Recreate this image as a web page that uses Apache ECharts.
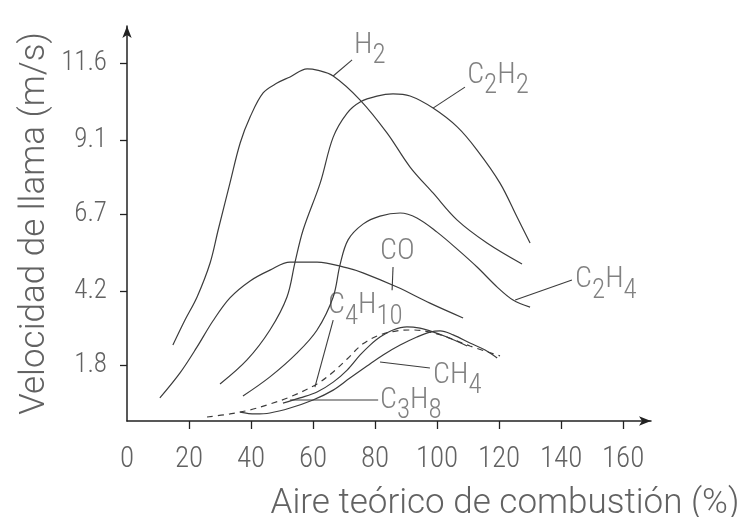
<!DOCTYPE html>
<html>
<head>
<meta charset="utf-8">
<script src="https://cdn.jsdelivr.net/npm/echarts@6/dist/echarts.min.js"></script>
<style>html,body{margin:0;padding:0;background:#fff}#c{width:750px;height:517px}</style>
</head>
<body>
<div id="c"></div>
<script>
// Tick labels
const xTicks = [0, 20, 40, 60, 80, 100, 120, 140, 160];
const yTicks = [1.8, 4.2, 6.7, 9.1, 11.6];

// Curves: [aire teórico %, velocidad m/s]
const h2 = [[14.8,2.46],[18.7,3.27],[22.6,4.02],[26.8,5.12],[29.4,6.19],[33.2,7.71],[36.5,9.01],[39.7,9.85],[43.9,10.63],[48.4,10.95],[52.6,11.15],[58.1,11.41],[61.3,11.37],[66.5,11.18],[75.2,10.40],[83.9,9.33],[91.3,8.23],[98.7,7.39],[106.5,6.51],[116.1,5.77],[127.4,5.09]];
const c2h2 = [[30.0,1.20],[38.7,1.98],[46.1,2.95],[51.6,4.02],[54.2,5.15],[56.8,6.19],[62.3,7.71],[66.5,9.20],[71.0,9.98],[75.2,10.34],[80.6,10.53],[85.8,10.60],[91.3,10.53],[98.7,10.14],[106.5,9.53],[112.9,8.78],[120.3,7.71],[125.8,6.61],[130.0,5.77]];
const c2h4 = [[37.4,0.81],[46.1,1.43],[54.8,2.20],[61.3,2.95],[66.5,4.02],[68.7,5.06],[71.3,5.87],[76.1,6.38],[81.6,6.64],[88.1,6.74],[93.5,6.58],[100.0,6.12],[106.5,5.57],[112.9,4.99],[119.4,4.34],[124.5,3.92],[130.0,3.69]];
const co = [[10.6,0.75],[17.1,1.56],[22.6,2.40],[27.7,3.24],[33.2,3.99],[39.7,4.54],[46.1,4.89],[52.6,5.15],[61.3,5.15],[71.0,4.96],[76.1,4.80],[87.1,4.34],[97.7,3.82],[108.4,3.34]];
const ch4 = [[36.5,0.29],[41.3,0.23],[46.1,0.26],[52.6,0.42],[60.0,0.68],[66.5,1.00],[71.9,1.39],[77.4,1.78],[82.6,2.14],[88.1,2.46],[93.5,2.72],[97.7,2.88],[101.0,2.92],[105.2,2.79],[110.6,2.53],[115.5,2.30],[119.4,2.04]];
const c3h8 = [[50.3,0.58],[55.8,0.75],[61.3,0.94],[66.5,1.26],[71.0,1.65],[75.2,2.14],[78.4,2.46],[81.6,2.72],[85.8,2.95],[90.3,3.05],[94.5,3.01],[97.7,2.92],[103.2,2.72],[109.7,2.43]];
const c4h10 = [[25.8,0.13],[33.2,0.23],[39.7,0.36],[46.1,0.55],[52.6,0.78],[61.3,1.20],[66.5,1.59],[71.0,2.01],[76.1,2.50],[81.6,2.79],[87.1,2.92],[92.3,2.95],[97.7,2.88],[103.2,2.72],[110.6,2.43],[120.3,2.11]];

// Leader lines from curve to label
const leaders = {
  h2: [[66.5,11.18],[72.6,11.70]],
  c2h2: [[98.7,10.14],[109.0,10.82]],
  c2h4: [[125.2,3.92],[143.5,4.57]],
  co: [[85.5,4.24],[85.8,4.99]],
  c4h10: [[60.6,1.10],[66.5,3.27]],
  ch4: [[81.6,1.91],[97.7,1.72]],
  c3h8: [[52.6,0.68],[81.0,0.68]]
};
// Label anchors (left edge, middle of main letters)
const labelNames = ['{m|H}{s|2}', '{m|C}{s|2}{m|H}{s|2}', '{m|C}{s|2}{m|H}{s|4}', '{m|CO}', '{m|C}{s|4}{m|H}{s|10}', '{m|CH}{s|4}', '{m|C}{s|3}{m|H}{s|8}'];
const labelPos = [[73.2,12.18],[109.7,11.21],[144.5,4.57],[81.6,5.48],[64.8,3.73],[98.7,1.49],[81.6,0.68]];

const curveColor = '#3c3c3c';
const textColor = '#626262';
const FONT = "'Roboto Condensed', 'DejaVu Sans Condensed', 'Liberation Sans Narrow', sans-serif";
const NAMEFONT = "Roboto, 'Liberation Sans', sans-serif";

function curve(name, data, dashed) {
  return {
    name: name, type: 'line', data: data, smooth: 0.35, symbol: 'none', silent: true,
    lineStyle: { color: curveColor, width: 1.2, type: dashed ? [6, 5] : 'solid' }
  };
}
function leader(data) {
  return { type: 'line', data: data, symbol: 'none', silent: true, lineStyle: { color: curveColor, width: 1.1 } };
}

const series = [
  curve('H2', h2), curve('C2H2', c2h2), curve('C2H4', c2h4), curve('CO', co),
  curve('CH4', ch4), curve('C3H8', c3h8), curve('C4H10', c4h10, true)
];
Object.keys(leaders).forEach(k => series.push(leader(leaders[k])));
series.push({
  type: 'scatter', symbolSize: 0, silent: true,
  data: labelPos.map((p, i) => ({ value: p, name: labelNames[i] })),
  label: {
    show: true, position: 'inside', align: 'left', verticalAlign: 'middle',
    formatter: p => p.name,
    rich: {
      m: { fontFamily: FONT, fontWeight: 300, fontSize: 30, color: textColor, verticalAlign: 'top', lineHeight: 30 },
      s: { fontFamily: FONT, fontWeight: 300, fontSize: 27, color: textColor, verticalAlign: 'top', padding: [13, 0, 0, 0], lineHeight: 30 }
    }
  }
});

const chart = echarts.init(document.getElementById('c'), null, { renderer: 'canvas' });
chart.setOption({
  backgroundColor: '#ffffff',
  animation: false,
  grid: { left: 127, right: 99, top: 26, bottom: 96, outerBoundsMode: 'none', containLabel: false },
  xAxis: {
    type: 'value', min: 0, max: 169,
    name: 'Aire teórico de combustión (%)', nameLocation: 'middle', nameGap: 66, nameMoveOverlap: false,
    nameTextStyle: { fontFamily: NAMEFONT, fontWeight: 300, fontSize: 35, color: textColor, padding: [0, 0, 0, 232] },
    axisLine: { show: true, symbol: ['none', 'arrow'], symbolSize: [7, 12], lineStyle: { color: '#222', width: 1.5 } },
    axisTick: { show: true, customValues: xTicks.slice(1), length: 8, lineStyle: { color: '#222', width: 1.3 } },
    axisLabel: { customValues: xTicks, margin: 24, fontFamily: FONT, fontWeight: 300, fontSize: 29, color: textColor },
    splitLine: { show: false }
  },
  yAxis: {
    type: 'value', min: 0, max: 12.8,
    name: 'Velocidad de llama (m/s)', nameLocation: 'middle', nameGap: 74, nameRotate: 90, nameMoveOverlap: false,
    nameTextStyle: { fontFamily: NAMEFONT, fontWeight: 300, fontSize: 35, color: textColor },
    axisLine: { show: true, symbol: ['none', 'arrow'], symbolSize: [7, 12], lineStyle: { color: '#222', width: 1.5 } },
    axisTick: { show: true, customValues: yTicks, length: 7, lineStyle: { color: '#222', width: 1.3 } },
    axisLabel: { customValues: yTicks, margin: 20, fontFamily: FONT, fontWeight: 300, fontSize: 27, color: textColor },
    splitLine: { show: false }
  },
  series: series
});
</script>
</body>
</html>
